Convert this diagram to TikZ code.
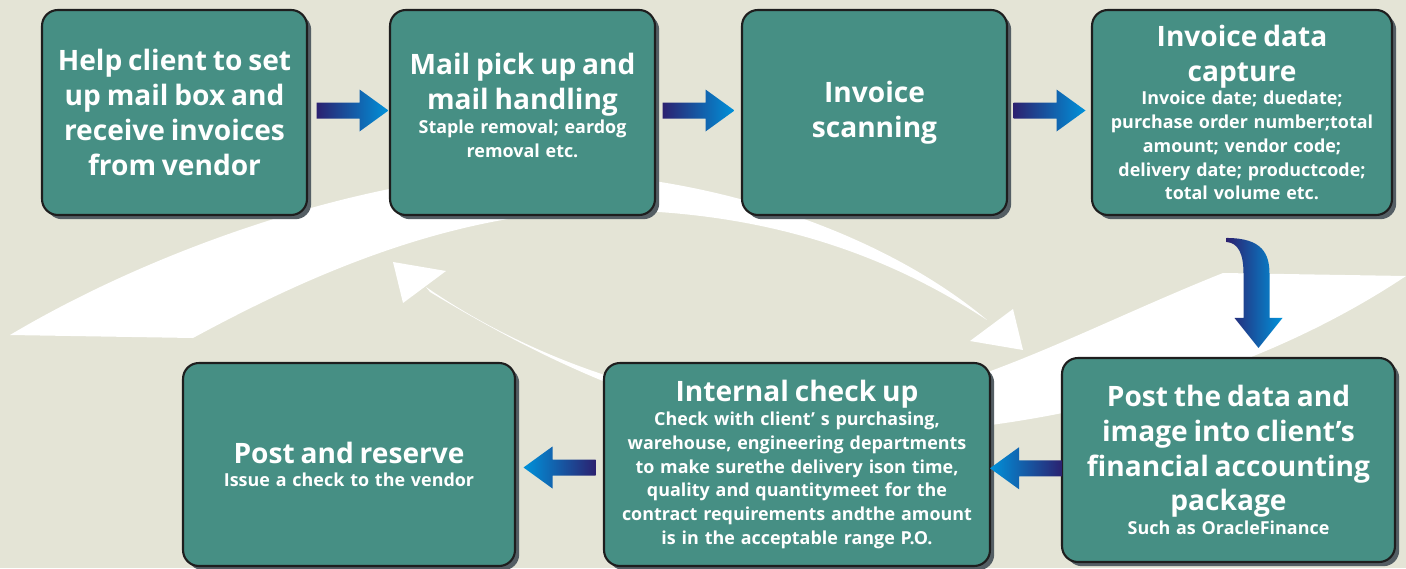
\documentclass[tikz,border=0pt]{standalone}
\usepackage{fontspec}
\setmainfont{Open Sans}
\usetikzlibrary{calc,shadows}

\definecolor{bgbeige}{RGB}{228,228,214}
\definecolor{boxteal}{RGB}{70,143,132}
\definecolor{boxline}{RGB}{30,30,30}
\definecolor{shadowgray}{RGB}{84,94,100}
\definecolor{arrownavy}{RGB}{43,33,112}
\definecolor{arrowsky}{RGB}{0,146,218}

\newcommand{\bigtext}[1]{{\fontsize{16}{19.8}\selectfont\bfseries #1\par}}
\newcommand{\subtext}[1]{{\fontsize{10.2}{13.5}\selectfont\bfseries #1\par}}

\tikzset{
  stepbox/.style={draw=boxline, line width=1.2pt, fill=boxteal, rounded corners=9pt,
    text=white, align=center, inner sep=2pt,
    drop shadow={shadow xshift=2.4pt, shadow yshift=-2.4pt, fill=shadowgray, opacity=1}},
  swoosh/.style={fill=white},
  rightarrow/.pic={
    \path[left color=arrownavy, right color=arrowsky]
      (-36,-8) -- (7,-8) -- (7,-21) -- (36,0) -- (7,21) -- (7,8) -- (-36,8) -- cycle;},
  leftarrow/.pic={
    \path[left color=arrowsky, right color=arrownavy]
      (36,-8) -- (-7,-8) -- (-7,-21) -- (-36,0) -- (-7,21) -- (-7,8) -- (36,8) -- cycle;},
}

\begin{document}
\begin{tikzpicture}[x={(0.02cm,0)}, y={(0,-0.02cm)}]

    % Background
    \fill[bgbeige] (0,0) rectangle (1406,568);
    \useasboundingbox (0,0) rectangle (1406,568);

    % Upper white swoosh, pointing down to the right
    \path[swoosh] (10,335) .. controls (170,240) and (380,175) .. (530,172)
        .. controls (700,170) and (880,230) .. (987,320)
        .. controls (880,250) and (760,212) .. (610,210)
        .. controls (450,210) and (300,280) .. (193,338) -- cycle;
    \path[swoosh] (970,341) -- (1013,309) -- (1023,350) -- cycle;

    % Lower white swoosh, pointing up to the left
    \path[swoosh] (1223,273) -- (1406,276)
        .. controls (1280,360) and (1100,425) .. (880,435)
        .. controls (700,445) and (530,352) .. (430,292)
        -- (426,287) .. controls (510,345) and (650,410) .. (820,410)
        .. controls (950,405) and (1080,330) .. (1223,273) -- cycle;
    \path[swoosh] (393,262) -- (446,271) -- (403,303) -- cycle;

    % Top row of steps
    \node[stepbox, minimum width=5.3cm, minimum height=4.1cm, text width=5.1cm] (help) at (174.5,112.5)
        {\bigtext{Help client to set\\ up mail box and\\ receive invoices\\ from vendor}};
    \node[stepbox, minimum width=5.3cm, minimum height=4.1cm, text width=5.1cm] (mail) at (522.5,112.5)
        {\bigtext{Mail pick up and\\ mail handling}\subtext{Staple removal; eardog\\ removal etc.}\vspace{8pt}};
    \node[stepbox, minimum width=5.3cm, minimum height=4.1cm, text width=5.1cm] (scan) at (874.5,112.5)
        {\bigtext{Invoice\\ scanning}};
    \node[stepbox, minimum width=6cm, minimum height=4.1cm, text width=5.8cm] (capture) at (1242,112.5)
        {\bigtext{Invoice data\\ capture}\subtext{Invoice date; duedate;\\ purchase order number;total\\ amount; vendor code;\\ delivery date; productcode;\\ total volume etc.}};

    % Bottom row of steps
    \node[stepbox, minimum width=6.66cm, minimum height=4.08cm, text width=6.4cm] (post) at (1228.5,460)
        {\bigtext{Post the data and\\ image into client’s\\ financial accounting\\ package}\subtext{Such as OracleFinance}};
    \node[stepbox, minimum width=7.72cm, minimum height=4.06cm, text width=7.5cm] (check) at (797,464.5)
        {\bigtext{Internal check up}\subtext{Check with client’ s purchasing,\\ warehouse, engineering departments\\ to make surethe delivery ison time,\\ quality and quantitymeet for the\\ contract requirements andthe amount\\ is in the acceptable range P.O.}};
    \node[stepbox, minimum width=6.64cm, minimum height=4.06cm, text width=6.4cm] (reserve) at (349,464.5)
        {\bigtext{Post and reserve}\subtext{Issue a check to the vendor}};

    % Blue arrows between the steps
    \pic at ($(help.east)!0.5!(mail.west)+(4,-2)$) {rightarrow};
    \pic at ($(mail.east)!0.5!(scan.west)+(0,-2)$) {rightarrow};
    \pic at ($(scan.east)!0.5!(capture.west)+(0,-2)$) {rightarrow};
    \pic at ($(check.east)!0.5!(post.west)+(0,6)$) {leftarrow};
    \pic at ($(reserve.east)!0.5!(check.west)+(0,3)$) {leftarrow};

    % Hooked arrow from capture down to posting
    \coordinate (hooktip) at ($(post.north)+(30,-9)$);
    \path[left color=arrownavy, right color=arrowsky]
        ($(hooktip)+(-32,-110)$) .. controls ($(hooktip)+(4,-110)$) and ($(hooktip)+(11,-94)$) .. ($(hooktip)+(11,-74)$)
        -- ($(hooktip)+(11,-30)$) -- ($(hooktip)+(24,-30)$) -- (hooktip)
        -- ($(hooktip)+(-24,-30)$) -- ($(hooktip)+(-15,-30)$) -- ($(hooktip)+(-15,-74)$)
        .. controls ($(hooktip)+(-15,-94)$) and ($(hooktip)+(-20,-105)$) .. ($(hooktip)+(-32,-106)$) -- cycle;

\end{tikzpicture}
\end{document}
